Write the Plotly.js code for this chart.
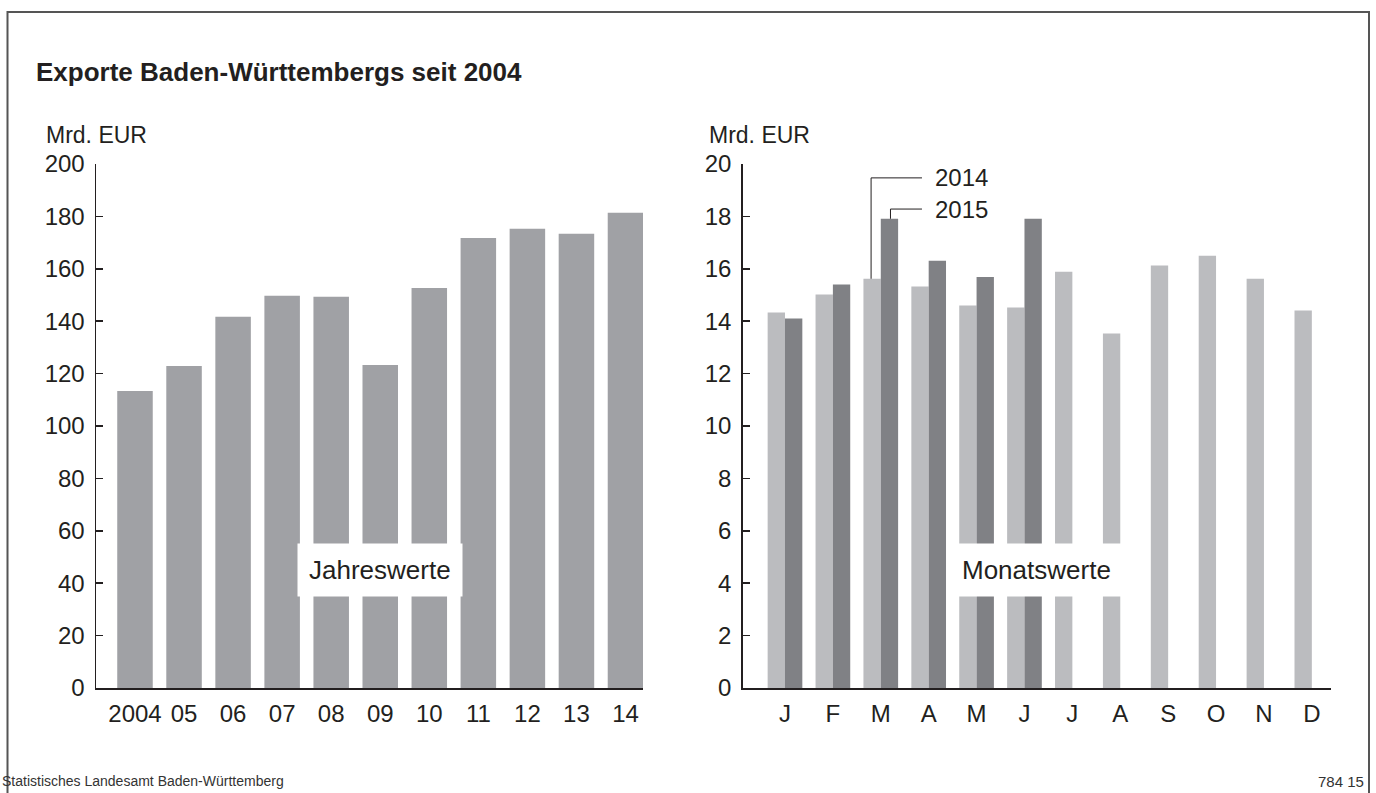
<!DOCTYPE html>
<html>
<head>
<meta charset="utf-8">
<script src="https://cdn.plot.ly/plotly-3.0.1.min.js"></script>
<style>
html,body{margin:0;padding:0;background:#fff;}
#chart{width:1376px;height:793px;}
</style>
</head>
<body>
<div id="chart"></div>
<script>
// Jahreswerte (Mrd. EUR)
const years = ['2004','05','06','07','08','09','10','11','12','13','14'];
const yearValues = [113.4, 122.9, 141.7, 149.7, 149.3, 123.3, 152.7, 171.8, 175.3, 173.4, 181.4];

// Monatswerte (Mrd. EUR)
const months = ['J','F','M','A','M','J','J','A','S','O','N','D'];
const values2014 = [14.33, 15.02, 15.62, 15.32, 14.6, 14.52, 15.89, 13.53, 16.13, 16.5, 15.62, 14.41];
const values2015 = [14.10, 15.40, 17.91, 16.31, 15.69, 17.91];
const seriesNames = ['2014', '2015'];

const W = 1376, H = 793;
const px = x => x / W;
const py = y => 1 - y / H;

const fontMain = 'Arial, "Liberation Sans", Helvetica, sans-serif';
const textColor = '#231f20';

const yearIdx = years.map((_, i) => i);
const monthIdx = months.map((_, i) => i);

const traces = [
  {type: 'bar', x: yearIdx, y: yearValues, xaxis: 'x', yaxis: 'y',
   marker: {color: '#a0a1a5'}, hoverinfo: 'x+y', showlegend: false},
  {type: 'bar', x: monthIdx, y: values2014, xaxis: 'x2', yaxis: 'y2', name: seriesNames[0],
   marker: {color: '#bbbcbf'}, showlegend: false},
  {type: 'bar', x: monthIdx.slice(0, values2015.length), y: values2015, xaxis: 'x2', yaxis: 'y2', name: seriesNames[1],
   marker: {color: '#808185'}, showlegend: false}
];

const yDomain = [py(688), py(164)];
const tickFont = {family: fontMain, size: 24, color: textColor};
const xTickFont = {family: fontMain, size: 24, color: textColor};

// legend leader geometry (bar offsets within group)
const groupW = 1 - 0.19;
const barOff = groupW / 4;
const mIdx = 2;
const leadY14 = 19.47, leadY15 = 18.28, leadX = 2.86, labelX = 3.09;

const layout = {
  width: W, height: H,
  margin: {l: 0, r: 0, t: 0, b: 0},
  paper_bgcolor: '#fff', plot_bgcolor: 'rgba(0,0,0,0)',
  barmode: 'group', bargap: 0.276, bargroupgap: 0,
  font: {family: fontMain, color: textColor},
  xaxis: {
    domain: [px(96), px(643)], range: [-0.795, 10.357],
    tickvals: yearIdx, ticktext: years, ticks: '', showgrid: false, zeroline: false,
    showline: true, linecolor: '#231f20', linewidth: 2,
    tickfont: xTickFont, ticklabelstandoff: 3,
    automargin: false, fixedrange: true
  },
  yaxis: {
    domain: yDomain, range: [0, 200], tickvals: [0,20,40,60,80,100,120,140,160,180,200],
    ticks: 'inside', ticklen: 7, tickcolor: '#231f20', tickwidth: 1.5,
    showgrid: false, zeroline: false, showline: true, linecolor: '#231f20', linewidth: 1.5,
    tickfont: tickFont, ticklabelstandoff: 5, automargin: false, fixedrange: true
  },
  xaxis2: {
    domain: [px(742.7), px(1331)], range: [-0.883, 11.4],
    tickvals: monthIdx, ticktext: months, ticks: '', showgrid: false, zeroline: false,
    showline: true, linecolor: '#231f20', linewidth: 2, anchor: 'y2',
    tickfont: xTickFont, ticklabelstandoff: 3,
    automargin: false, fixedrange: true
  },
  yaxis2: {
    domain: yDomain, range: [0, 20], tickvals: [0,2,4,6,8,10,12,14,16,18,20], anchor: 'x2',
    ticks: 'inside', ticklen: 7, tickcolor: '#231f20', tickwidth: 1.5,
    showgrid: false, zeroline: false, showline: true, linecolor: '#231f20', linewidth: 1.5,
    tickfont: tickFont, ticklabelstandoff: 5, automargin: false, fixedrange: true
  },
  shapes: [
    // outer frame
    {type: 'rect', xref: 'paper', yref: 'paper', x0: px(7.5), x1: px(1369), y0: py(805), y1: py(12),
     line: {color: '#555', width: 2}, fillcolor: 'rgba(0,0,0,0)', layer: 'below'},
    // leader 2014
    {type: 'path', xref: 'x2', yref: 'y2',
     path: `M ${mIdx - barOff} ${values2014[mIdx]} L ${mIdx - barOff} ${leadY14} L ${leadX} ${leadY14}`,
     line: {color: '#231f20', width: 1}},
    // leader 2015
    {type: 'path', xref: 'x2', yref: 'y2',
     path: `M ${mIdx + barOff} ${values2015[mIdx]} L ${mIdx + barOff} ${leadY15} L ${leadX} ${leadY15}`,
     line: {color: '#231f20', width: 1}}
  ],
  annotations: [
    {text: '<b>Exporte Baden-Württembergs seit 2004</b>', xref: 'paper', yref: 'paper',
     x: px(34), y: py(72), xanchor: 'left', yanchor: 'middle', showarrow: false,
     font: {family: fontMain, size: 26, color: textColor}},
    {text: 'Mrd. EUR', xref: 'paper', yref: 'paper', x: px(44), y: py(135), xanchor: 'left', yanchor: 'middle',
     showarrow: false, font: {family: fontMain, size: 23, color: textColor}},
    {text: 'Mrd. EUR', xref: 'paper', yref: 'paper', x: px(707), y: py(135), xanchor: 'left', yanchor: 'middle',
     showarrow: false, font: {family: fontMain, size: 23, color: textColor}},
    {text: 'Jahreswerte', xref: 'x', yref: 'y', x: 5, y: 45, showarrow: false,
     bgcolor: '#fff', borderpad: 11, font: {family: fontMain, size: 26, color: textColor}},
    {text: 'Monatswerte', xref: 'x2', yref: 'y2', x: 5.25, y: 4.5, showarrow: false,
     bgcolor: '#fff', borderpad: 11, font: {family: fontMain, size: 26, color: textColor}},
    {text: seriesNames[0], xref: 'x2', yref: 'y2', x: labelX, y: leadY14, xanchor: 'left', yanchor: 'middle',
     showarrow: false, font: {family: fontMain, size: 24, color: textColor}},
    {text: seriesNames[1], xref: 'x2', yref: 'y2', x: labelX, y: leadY15, xanchor: 'left', yanchor: 'middle',
     showarrow: false, font: {family: fontMain, size: 24, color: textColor}},
    {text: 'Statistisches Landesamt Baden-Württemberg', xref: 'paper', yref: 'paper', x: px(0), y: py(781),
     xanchor: 'left', yanchor: 'middle', showarrow: false, font: {family: fontMain, size: 14, color: '#333'}},
    {text: '784 15', xref: 'paper', yref: 'paper', x: px(1366), y: py(781),
     xanchor: 'right', yanchor: 'middle', showarrow: false, font: {family: fontMain, size: 15, color: '#333'}}
  ]
};

Plotly.newPlot('chart', traces, layout, {displayModeBar: false, staticPlot: true});
</script>
</body>
</html>
